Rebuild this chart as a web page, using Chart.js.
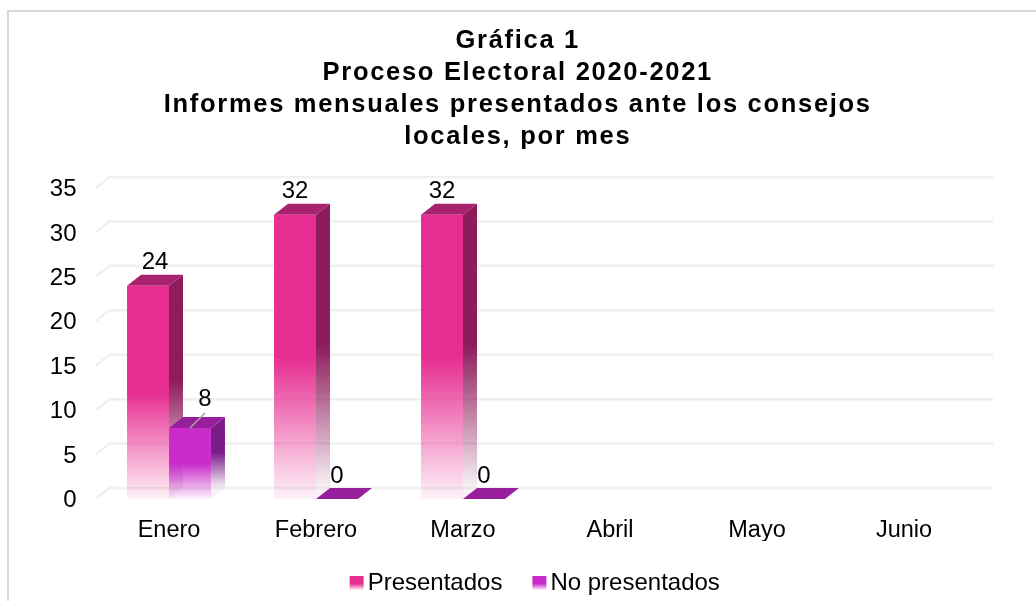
<!DOCTYPE html>
<html>
<head>
<meta charset="utf-8">
<style>
  html, body { margin: 0; padding: 0; background: #fff; overflow: hidden; }
  #frame { position: absolute; left: 7px; top: 10px; right: -5px; bottom: -5px; border: 2px solid #d9d9d9; }
  canvas { position: absolute; left: 0; top: 0; }
</style>
<script src="https://cdn.jsdelivr.net/npm/chart.js@4"></script>
</head>
<body>
<div id="frame"></div>
<canvas id="chart" width="1036" height="601"></canvas>
<script>
const months = ['Enero', 'Febrero', 'Marzo', 'Abril', 'Mayo', 'Junio'];
const presentados = [24, 32, 32, null, null, null];
const noPresentados = [8, 0, 0, null, null, null];
const titleLines = [
    'Gráfica 1',
    'Proceso Electoral 2020-2021',
    'Informes mensuales presentados ante los consejos',
    'locales, por mes'
];

// 3D look of the original: how far the back of a bar sits from its front
const depthX = 14;
const depthY = 11;
const titleShift = 29;
const legendShift = 46;
const faces = [
    { front: '231, 45, 145', side: '142, 28, 92', top: '168, 34, 111' },
    { front: '201, 44, 203', side: '124, 28, 136', top: '151, 31, 155' }
];

function fade(ctx, top, bottom, rgb, solidUntil) {
    const g = ctx.createLinearGradient(0, top, 0, bottom);
    g.addColorStop(0, 'rgb(' + rgb + ')');
    g.addColorStop(solidUntil, 'rgb(' + rgb + ')');
    g.addColorStop(1, 'rgba(' + rgb + ', 0.06)');
    return g;
}

function frontColor(c) {
    const rgb = faces[c.datasetIndex].front;
    const y = c.chart.scales.y;
    if (!c.parsed || !y) return 'rgb(' + rgb + ')';
    const top = y.getPixelForValue(c.parsed.y);
    const bottom = y.getPixelForValue(0);
    if (!Number.isFinite(top) || !Number.isFinite(bottom)) return 'rgb(' + rgb + ')';
    return fade(c.chart.ctx, top, bottom, rgb, 0.5);
}

// grey wall lines, drawn one step back from the axis like the 3D chart
const backGrid = {
    id: 'backGrid',
    beforeDatasetsDraw(chart) {
        const ctx = chart.ctx;
        const y = chart.scales.y;
        const area = chart.chartArea;
        ctx.save();
        ctx.strokeStyle = '#f0f0f0';
        ctx.lineWidth = 2.5;
        y.ticks.forEach(t => {
            const py = y.getPixelForValue(t.value);
            ctx.beginPath();
            ctx.moveTo(area.left, py);
            ctx.lineTo(area.left + depthX, py - depthY);
            ctx.lineTo(area.right + depthX + 2, py - depthY);
            ctx.stroke();
        });
        ctx.restore();
    }
};

const barFaces = {
    id: 'barFaces',
    beforeDatasetsDraw(chart) {
        const ctx = chart.ctx;
        const zero = chart.scales.y.getPixelForValue(0);
        chart.data.datasets.forEach((ds, d) => {
            chart.getDatasetMeta(d).data.forEach((bar, i) => {
                if (ds.data[i] === null) return;
                const left = bar.x - bar.width / 2;
                const right = bar.x + bar.width / 2;
                const top = bar.y;
                if (top < zero) {
                    ctx.fillStyle = fade(ctx, top - depthY, zero - depthY, faces[d].side, 0.5);
                    ctx.beginPath();
                    ctx.moveTo(right, top);
                    ctx.lineTo(right + depthX, top - depthY);
                    ctx.lineTo(right + depthX, zero - depthY);
                    ctx.lineTo(right, zero);
                    ctx.closePath();
                    ctx.fill();
                }
                ctx.fillStyle = 'rgb(' + faces[d].top + ')';
                ctx.beginPath();
                ctx.moveTo(left, top);
                ctx.lineTo(left + depthX, top - depthY);
                ctx.lineTo(right + depthX, top - depthY);
                ctx.lineTo(right, top);
                ctx.closePath();
                ctx.fill();
            });
        });
    }
};

const valueLabels = {
    id: 'valueLabels',
    afterDatasetsDraw(chart) {
        const ctx = chart.ctx;
        ctx.save();
        ctx.font = '24px "Liberation Sans"';
        ctx.fillStyle = '#000';
        ctx.textAlign = 'center';
        ctx.textBaseline = 'middle';
        chart.data.datasets.forEach((ds, d) => {
            chart.getDatasetMeta(d).data.forEach((bar, i) => {
                if (ds.data[i] === null) return;
                let dx = 0;
                let dy = -23;
                if (i === 0) dx = d === 0 ? 7 : 15;
                if (i === 0 && d === 1) {
                    // the 8 was moved off its bar, so it has a leader line
                    dy = -29;
                    ctx.strokeStyle = '#a6a6a6';
                    ctx.lineWidth = 1.5;
                    ctx.beginPath();
                    ctx.moveTo(bar.x, bar.y);
                    ctx.lineTo(bar.x + 15, bar.y - 15);
                    ctx.stroke();
                }
                ctx.fillText(String(ds.data[i]), bar.x + dx, bar.y + dy);
            });
        });
        ctx.restore();
    }
};

// legend swatches fade out like the bars
const legendSwatch = {
    id: 'legendSwatch',
    afterDraw(chart) {
        const ctx = chart.ctx;
        chart.legend.legendHitBoxes.forEach((box, i) => {
            const mid = box.top + box.height / 2;
            const x = box.left + legendShift;
            ctx.fillStyle = '#fff';
            ctx.fillRect(x, mid - 7, 14, 14);
            ctx.fillStyle = fade(ctx, mid - 7, mid + 7, faces[i].front, 0.55);
            ctx.fillRect(x, mid - 7, 14, 14);
        });
    }
};

// title and legend are centred on the page, not on the plot;
// the title is also letter spaced, everything else is not
const blockPlacement = {
    id: 'blockPlacement',
    afterLayout(chart) {
        const ctx = chart.ctx;
        const title = chart.titleBlock;
        const legend = chart.legend;
        const y = chart.scales.y;
        if (title.placed) return;
        title.placed = true;
        const drawTitle = title.draw;
        title.draw = function () {
            ctx.save();
            ctx.translate(titleShift, 0);
            ctx.letterSpacing = '1.7px';
            drawTitle.call(title);
            ctx.restore();
        };
        const drawLegend = legend.draw;
        legend.draw = function () {
            ctx.save();
            ctx.translate(legendShift, 0);
            drawLegend.call(legend);
            ctx.restore();
        };
        // axis numbers sit a little under their grid step in the original
        const drawLabels = y.drawLabels;
        y.drawLabels = function (area) {
            ctx.save();
            ctx.translate(0, 1.5);
            drawLabels.call(y, area);
            ctx.restore();
        };
    }
};

function renderChart() {
    const ctx = document.getElementById('chart').getContext('2d');
    new Chart(ctx, {
        type: 'bar',
        data: {
            labels: months,
            datasets: [
                { label: 'Presentados', data: presentados, backgroundColor: frontColor },
                { label: 'No presentados', data: noPresentados, backgroundColor: frontColor }
            ]
        },
        options: {
            responsive: false,
            animation: false,
            categoryPercentage: 0.571,
            barPercentage: 1,
            layout: { padding: { left: 0, right: 58.5, top: 8, bottom: -4 } },
            plugins: {
                tooltip: { enabled: false },
                title: {
                    display: true,
                    text: titleLines,
                    color: '#000',
                    font: { family: '"Liberation Sans"', size: 25.5, weight: 'bold', lineHeight: 1.255 },
                    padding: { top: 17, bottom: 35 }
                },
                legend: {
                    position: 'bottom',
                    labels: {
                        color: '#000',
                        boxWidth: 6,
                        boxHeight: 14,
                        padding: 30,
                        font: { family: '"Liberation Sans"', size: 24 }
                    }
                }
            },
            scales: {
                x: {
                    grid: { display: false },
                    border: { display: false },
                    afterFit(scale) { scale.height = 42; },
                    ticks: { color: '#000', font: { family: '"Liberation Sans"', size: 23.5 }, padding: 9 }
                },
                y: {
                    min: 0,
                    max: 35,
                    grid: { display: false },
                    border: { display: false },
                    afterFit(scale) { scale.width = 95.5; },
                    ticks: { stepSize: 5, color: '#000', font: { family: '"Liberation Sans"', size: 24 }, padding: 11 }
                }
            }
        },
        plugins: [blockPlacement, backGrid, barFaces, valueLabels, legendSwatch]
    });
}
renderChart();
</script>
</body>
</html>
